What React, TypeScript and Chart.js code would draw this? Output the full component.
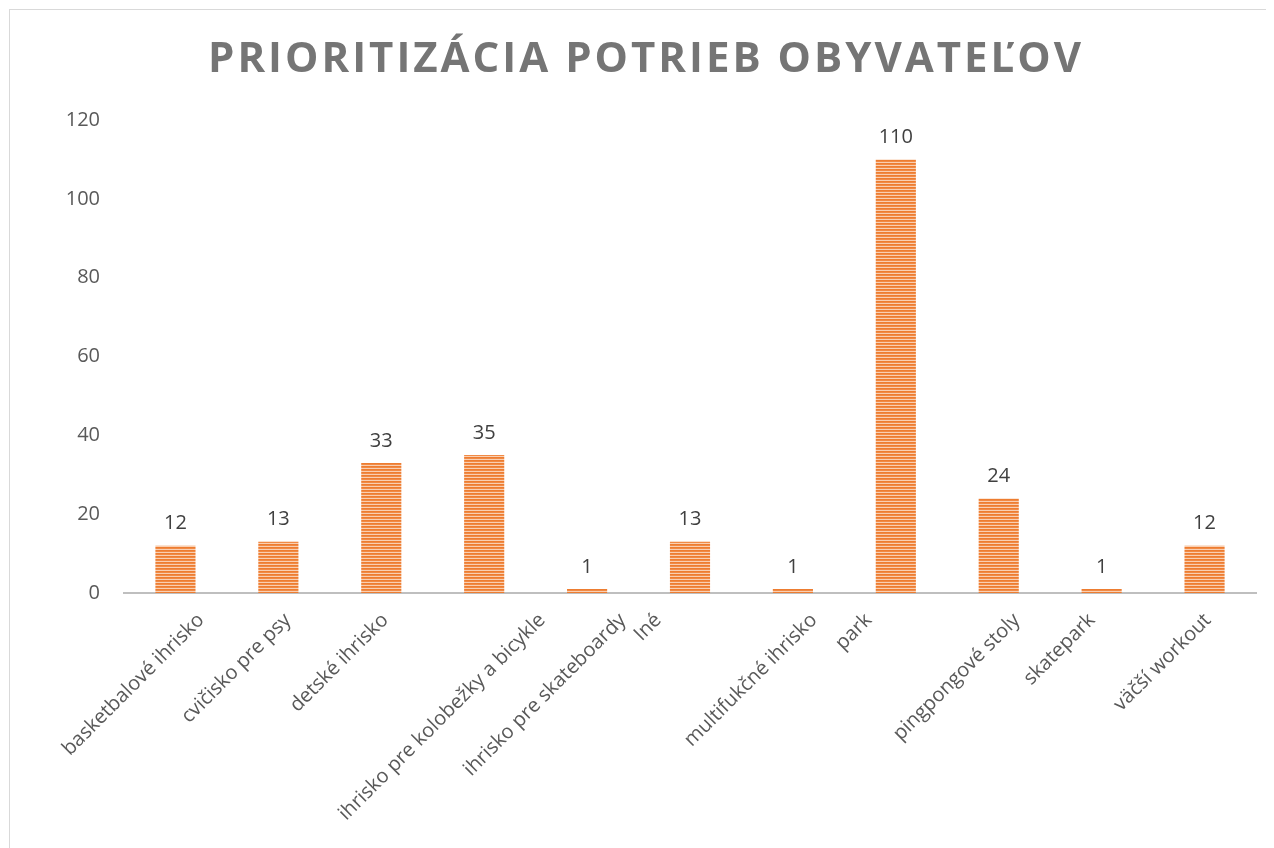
import React, { useEffect, useRef } from "react";
import { Chart, registerables } from "chart.js";

Chart.register(...registerables);

const titleText = "PRIORITIZÁCIA POTRIEB OBYVATEĽOV";
const categories = [
  "basketbalové ihrisko",
  "cvičisko pre psy",
  "detské ihrisko",
  "ihrisko pre kolobežky a bicykle",
  "ihrisko pre skateboardy",
  "Iné",
  "multifukčné ihrisko",
  "park",
  "pingpongové stoly",
  "skatepark",
  "väčší workout",
];
const values = [12, 13, 33, 35, 1, 13, 1, 110, 24, 1, 12];
const yTicks = [0, 20, 40, 60, 80, 100, 120];

const FONT = "'Open Sans', sans-serif";

function makePattern(ctx: CanvasRenderingContext2D) {
  const c = document.createElement("canvas");
  c.width = 1;
  c.height = 3;
  const p = c.getContext("2d")!;
  p.fillStyle = "#ED7D31";
  p.fillRect(0, 0, 1, 1);
  p.fillStyle = "#F18A45";
  p.fillRect(0, 1, 1, 1);
  p.fillStyle = "#F9CFB2";
  p.fillRect(0, 2, 1, 1);
  return ctx.createPattern(c, "repeat")!;
}

const titlePlugin = {
  id: "spacedTitle",
  afterDraw(chart: any) {
    const ctx = chart.ctx as CanvasRenderingContext2D;
    ctx.save();
    ctx.font = `bold 42px ${FONT}`;
    (ctx as any).letterSpacing = "3px";
    ctx.fillStyle = "#757575";
    ctx.textAlign = "center";
    ctx.textBaseline = "middle";
    ctx.fillText(titleText, chart.width / 2 + 4, 50);
    ctx.restore();
  },
};

const labelPlugin = {
  id: "valueLabels",
  afterDatasetsDraw(chart: any) {
    const ctx = chart.ctx as CanvasRenderingContext2D;
    const meta = chart.getDatasetMeta(0);
    ctx.save();
    ctx.font = `20px ${FONT}`;
    ctx.fillStyle = "#404040";
    ctx.textAlign = "center";
    ctx.textBaseline = "bottom";
    meta.data.forEach((bar: any, i: number) => {
      ctx.fillText(String(values[i]), bar.x, bar.y - 12);
    });
    ctx.restore();
  },
};

// Category labels rotated -45deg, centered like Excel does
const categoryPlugin = {
  id: "categoryLabels",
  afterDraw(chart: any) {
    const ctx = chart.ctx as CanvasRenderingContext2D;
    const xs = chart.scales.x;
    const top = chart.chartArea.bottom + 17;
    const k = Math.SQRT1_2;
    const h = 20;
    ctx.save();
    ctx.font = `20px ${FONT}`;
    ctx.fillStyle = "#595959";
    ctx.textAlign = "right";
    ctx.textBaseline = "top";
    categories.forEach((label, i) => {
      const tx = xs.getPixelForTick(i);
      const w = ctx.measureText(label).width;
      const ex = tx - 42 + (k * (w - h)) / 2;
      ctx.save();
      ctx.translate(ex, top);
      ctx.rotate(-Math.PI / 4);
      ctx.fillText(label, 0, 0);
      ctx.restore();
    });
    ctx.restore();
  },
};

export default function App() {
  const ref = useRef<HTMLCanvasElement>(null);
  useEffect(() => {
    const canvas = ref.current!;
    const ctx = canvas.getContext("2d")!;
    const pattern = makePattern(ctx);
    const chart = new Chart(canvas, {
      type: "bar",
      data: {
        labels: categories,
        datasets: [
          {
            data: values,
            backgroundColor: pattern as any,
            borderWidth: 0,
            barPercentage: 0.39,
            categoryPercentage: 1,
          },
        ],
      },
      options: {
        animation: false,
        responsive: false,
        maintainAspectRatio: false,
        layout: { padding: { top: 110, right: 18, left: 0, bottom: 0 } },
        plugins: {
          legend: { display: false },
          title: { display: false },
          tooltip: { enabled: false },
        },
        scales: {
          x: {
            grid: { display: false },
            border: { display: true, color: "#BFBFBF", width: 2 },
            ticks: { display: false },
            afterFit: (scale: any) => {
              scale.height = 255;
            },
          },
          y: {
            min: 0,
            max: 120,
            grid: { display: false },
            border: { display: false },
            afterBuildTicks: (scale: any) => {
              scale.ticks = yTicks.map((v) => ({ value: v }));
            },
            ticks: {
              color: "#595959",
              font: { family: FONT, size: 20 },
              padding: 16,
            },
            afterFit: (scale: any) => {
              scale.width = 114;
            },
          },
        },
      },
      plugins: [titlePlugin, labelPlugin, categoryPlugin],
    });
    return () => chart.destroy();
  }, []);
  return (
    <div
      style={{
        marginLeft: 1,
        marginTop: 1,
        width: 1265,
        height: 839,
        borderLeft: "1px solid #D9D9D9",
        borderTop: "1px solid #D9D9D9",
        overflow: "hidden",
      }}
    >
      <canvas ref={ref} width={1264} height={838} style={{ display: "block" }} />
    </div>
  );
}
